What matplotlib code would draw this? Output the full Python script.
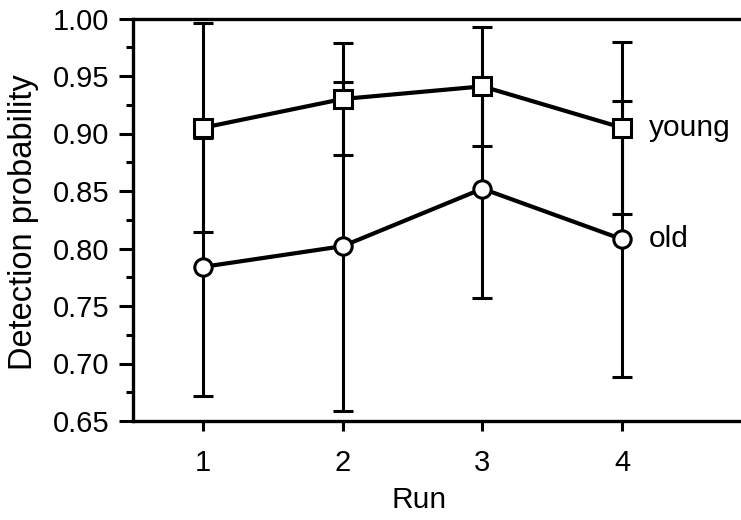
import matplotlib
matplotlib.use("Agg")
import matplotlib.pyplot as plt
from matplotlib.ticker import MultipleLocator

plt.rcParams['font.family'] = ['Liberation Sans', 'DejaVu Sans']

runs = [1, 2, 3, 4]
young = [0.905, 0.930, 0.941, 0.905]
young_err = [0.091, 0.049, 0.052, 0.075]
old = [0.784, 0.802, 0.852, 0.808]
old_err = [0.112, 0.143, 0.095, 0.120]
yticks = [0.65, 0.70, 0.75, 0.80, 0.85, 0.90, 0.95, 1.00]

fig = plt.figure(figsize=(7.41, 5.20), dpi=100)
ax = fig.add_axes([133/741, 1 - 421/520, 1 - 133/741, (421 - 18.5)/520])

for vals, errs, mk, lab in [(young, young_err, 's', 'young'), (old, old_err, 'o', 'old')]:
    ax.errorbar(runs, vals, yerr=errs, fmt='none', ecolor='black', elinewidth=2.2,
                capsize=7, capthick=2.2, zorder=2)
    ax.plot(runs, vals, color='black', linewidth=3.0, marker=mk, markersize=12.5,
            markerfacecolor='white', markeredgecolor='black', markeredgewidth=2.2, zorder=3)
    ax.text(runs[-1] + 0.19, vals[-1], lab, fontsize=21.5, va='center', ha='left')

ax.set_xlim(0.5, 4.85)
ax.set_ylim(0.65, 1.00)
ax.set_xticks(runs)
ax.set_xticklabels([str(r) for r in runs])
ax.set_yticks(yticks)
ax.set_yticklabels([f"{t:.2f}" for t in yticks])
ax.yaxis.set_minor_locator(MultipleLocator(0.025))
ax.tick_params(axis='both', which='major', direction='out', width=2.2, labelsize=21, colors='black')
ax.tick_params(axis='y', which='major', length=10, pad=7)
ax.tick_params(axis='y', which='minor', length=5, width=2.2, direction='out')
ax.tick_params(axis='x', which='major', length=7, pad=13)
for s in ['left', 'top', 'bottom']:
    ax.spines[s].set_linewidth(2.4)
ax.spines['right'].set_visible(False)

fig.text(24/741, 1 - 222/520, 'Detection probability', fontsize=23.5, rotation=90,
         ha='center', va='center')
fig.text(419/741, 1 - 500/520, 'Run', fontsize=21.5, ha='center', va='center')

fig.savefig('out.png', dpi=100)
